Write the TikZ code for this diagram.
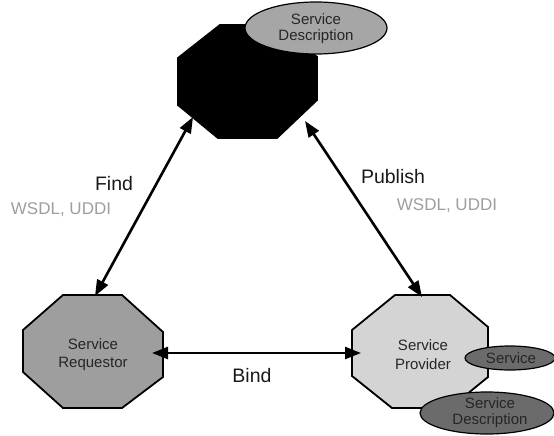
\documentclass[tikz,border=0pt]{standalone}
\usepackage{fontspec}
\setmainfont{Liberation Sans}
\usetikzlibrary{arrows.meta}
\begin{document}
\begin{tikzpicture}[x=1pt,y=-1pt,
  oct/.style={draw=black,line width=1.8pt,line join=miter},
  ell/.style={draw=black,line width=1.2pt},
  lbl/.style={font=\fontsize{15}{17}\selectfont,align=center,inner sep=0pt,text=black!85},
  opname/.style={font=\fontsize{19.5}{22}\selectfont,inner sep=0pt,text=black!90},
  proto/.style={font=\fontsize{17}{19}\selectfont,inner sep=0pt,text=black!38},
  link/.style={line width=2.6pt,{Triangle[length=16pt,width=12pt]}-{Triangle[length=16pt,width=12pt]}}]
\useasboundingbox (0,0) rectangle (554,436);
% octagons
\draw[oct,fill=black] (220,25) -- (277,25) -- (317,57) -- (317,100) -- (277,138) -- (218,138) -- (178,105) -- (178,58) -- cycle;
\draw[oct,fill=black!38] (63,295) -- (122,295) -- (163,332) -- (163,377) -- (122,408) -- (63,408) -- (23,372) -- (23,330) -- cycle;
\draw[oct,fill=black!17] (395,295) -- (450,295) -- (488,327) -- (488,377) -- (450,408) -- (392,408) -- (352,376) -- (352,330) -- cycle;
% ellipses
\draw[ell,fill=black!35] (316,28) ellipse [x radius=71,y radius=26];
\draw[ell,fill=black!58] (510,358) ellipse [x radius=45,y radius=12];
\draw[ell,fill=black!58] (487,413) ellipse [x radius=67,y radius=21];
% text
\node[lbl] (reg) at (316,29) {Service\\[-1pt]Description};
\node[lbl] (req) at (93,355) {Service\\[1pt]Requestor};
\node[lbl] (prov) at (423,355) {Service\\[2pt]Provider};
\node[lbl] (svc) at (511,358) {Service};
\node[lbl] (svcd) at (490,413) {Service\\[-1pt]Description};
% anchor points for connectors
\coordinate (regL) at (193,117);
\coordinate (regR) at (305,121);
\coordinate (reqT) at (95,296);
\coordinate (reqR) at (152,353);
\coordinate (provT) at (422,297);
\coordinate (provL) at (361,353);
% connectors
\draw[link] (regL) -- (reqT);
\draw[link] (regR) -- (provT);
\draw[link] (reqR) -- (provL);
% labels
\node[opname] (find) at (114,184) {Find};
\node[proto] (findp) at (61,210) {WSDL, UDDI};
\node[opname] (pub) at (393,177) {Publish};
\node[proto] (pubp) at (447,206) {WSDL, UDDI};
\node[opname] (bind) at (252,376) {Bind};
\end{tikzpicture}
\end{document}
